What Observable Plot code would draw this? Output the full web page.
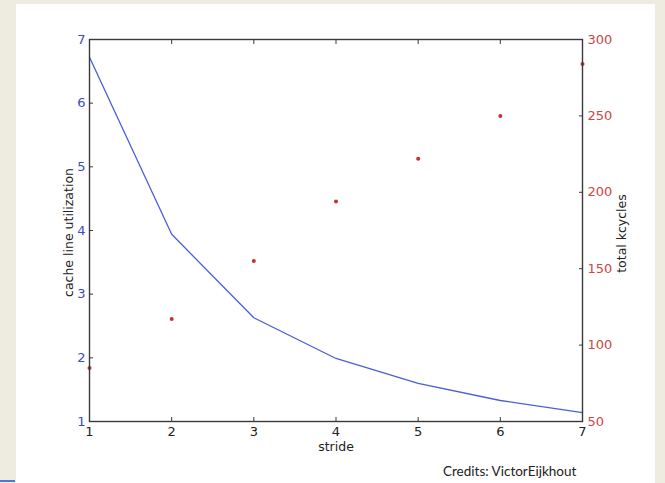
<!DOCTYPE html>
<html><head><meta charset="utf-8">
<script src="https://cdn.jsdelivr.net/npm/d3@7"></script>
<script src="https://cdn.jsdelivr.net/npm/@observablehq/plot@0.6"></script>
<style>
html,body{margin:0;padding:0;background:#eeebe0;width:665px;height:483px;overflow:hidden;position:relative;}
#panel{position:absolute;left:16px;top:4px;width:639px;height:479px;background:#fff;}
#chart{position:absolute;left:0;top:0;}
#credits{position:absolute;left:443px;top:463px;font-family:Lato, sans-serif;font-size:13.5px;color:#222;}
#accent{position:absolute;left:0;top:480px;width:15px;height:2px;background:#4a7bd0;}
</style></head><body>
<div id="panel"></div><div id="chart"></div><div id="credits">Credits: VictorEijkhout</div><div id="accent"></div>
<script>
const stride = [1, 2, 3, 4, 5, 6, 7];
const utilization = [6.72, 3.94, 2.63, 1.99, 1.60, 1.33, 1.14];
const kcycles = [85, 117, 155, 194, 222, 250, 284];
const xTicks = [1, 2, 3, 4, 5, 6, 7];
const leftTicks = [1, 2, 3, 4, 5, 6, 7];
const rightTicks = [50, 100, 150, 200, 250, 300];
const leftDomain = [1, 7];
const rightDomain = [50, 300];

const toLeft = k => leftDomain[0] + (k - rightDomain[0]) / (rightDomain[1] - rightDomain[0]) * (leftDomain[1] - leftDomain[0]);
const toRight = v => rightDomain[0] + (v - leftDomain[0]) / (leftDomain[1] - leftDomain[0]) * (rightDomain[1] - rightDomain[0]);

const data = stride.map((s, i) => ({stride: s, util: utilization[i], k: kcycles[i]}));

const blue = "#4a5fd6";
const blueText = "#3a4cc8";
const red = "#c8302f";
const redText = "#d04545";
const font = "DejaVu Sans, sans-serif";

const chart = Plot.plot({
  width: 665,
  height: 483,
  marginLeft: 89,
  marginRight: 83,
  marginTop: 39,
  marginBottom: 62,
  style: {background: "transparent", fontFamily: font, fontSize: "13px", overflow: "visible"},
  x: {domain: [1, 7]},
  y: {domain: leftDomain},
  marks: [
    Plot.line(data, {x: "stride", y: "util", stroke: blue, strokeWidth: 1.3}),
    Plot.dot(data, {x: "stride", y: d => toLeft(d.k), r: 2, fill: red, stroke: null}),
    Plot.frame({stroke: "#3a3a3a", strokeWidth: 1.4}),
    Plot.axisX(xTicks, {anchor: "bottom", tickSize: -4, tickPadding: 9, label: null, fill: "#222", stroke: "#3a3a3a", tickFormat: d => String(d)}),
    Plot.axisX(xTicks, {anchor: "top", tickSize: -4, tickFormat: () => "", label: null, stroke: "#3a3a3a"}),
    Plot.axisY(leftTicks, {anchor: "left", tickSize: -4, tickPadding: 8, label: null, fill: blueText, stroke: "#3a3a3a", tickFormat: d => String(d)}),
    Plot.axisY(rightTicks.map(toLeft), {anchor: "right", tickSize: -4, tickPadding: 9, label: null, fill: redText, stroke: "#3a3a3a", tickFormat: v => String(Math.round(toRight(v)))}),
    Plot.text(["stride"], {frameAnchor: "bottom", dy: 29, fill: "#222", fontSize: 12.5, fontFamily: font}),
    Plot.text(["cache line utilization"], {frameAnchor: "left", dx: -21, dy: 2, rotate: -90, textAnchor: "middle", fill: "#222", fontSize: 12.5, fontFamily: font}),
    Plot.text(["total kcycles"], {frameAnchor: "right", dx: 39, dy: 3, rotate: -90, textAnchor: "middle", fill: "#222", fontSize: 12.5, fontFamily: font})
  ]
});
document.getElementById("chart").appendChild(chart);
</script>
</body></html>
